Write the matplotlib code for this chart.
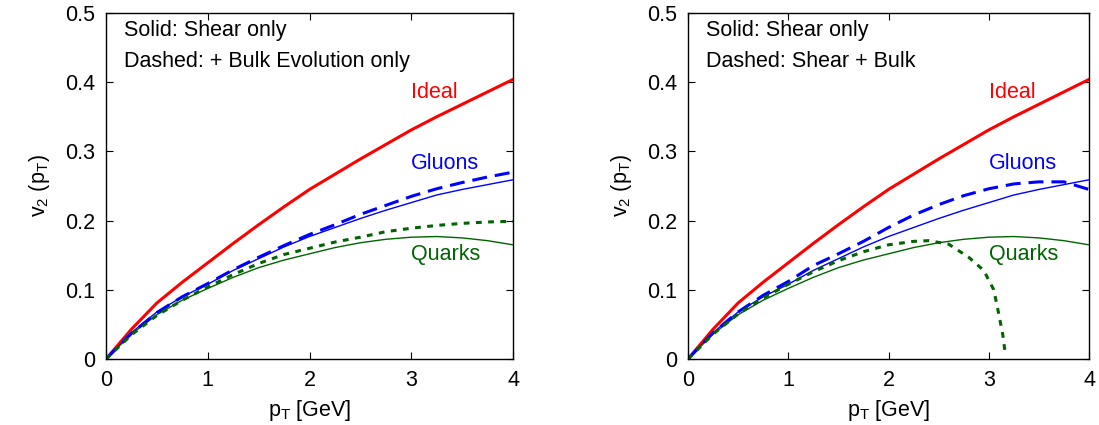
import matplotlib
matplotlib.use("Agg")
import matplotlib.pyplot as plt

# データ (p_T [GeV], v2)
pt = [0, 0.25, 0.5, 0.75, 1, 1.25, 1.5, 1.75, 2, 2.25, 2.5, 2.75, 3, 3.25, 3.5, 3.75, 4]
ideal = [0, 0.043, 0.081, 0.111, 0.139, 0.167, 0.194, 0.220, 0.245, 0.267, 0.289, 0.310, 0.331, 0.350, 0.368, 0.386, 0.404]
gluon_shear = [0, 0.038, 0.068, 0.090, 0.108, 0.128, 0.145, 0.162, 0.177, 0.190, 0.203, 0.215, 0.226, 0.237, 0.245, 0.252, 0.259]
quark_shear = [0, 0.036, 0.064, 0.085, 0.102, 0.118, 0.132, 0.143, 0.152, 0.161, 0.168, 0.173, 0.176, 0.177, 0.175, 0.171, 0.165]
gluon_bulkevo = [0, 0.037, 0.067, 0.090, 0.109, 0.129, 0.147, 0.164, 0.180, 0.194, 0.209, 0.222, 0.235, 0.246, 0.255, 0.263, 0.270]
quark_bulkevo = [0, 0.035, 0.063, 0.085, 0.104, 0.122, 0.138, 0.151, 0.160, 0.169, 0.176, 0.184, 0.189, 0.193, 0.196, 0.198, 0.199]
gluon_bulk = [0, 0.038, 0.068, 0.092, 0.112, 0.135, 0.152, 0.170, 0.190, 0.208, 0.223, 0.236, 0.246, 0.253, 0.256, 0.256, 0.245]
pt_q = [0, 0.25, 0.5, 0.75, 1, 1.25, 1.5, 1.75, 2, 2.25, 2.4, 2.6, 2.8, 2.95, 3.05, 3.1, 3.14, 3.16]
quark_bulk = [0, 0.036, 0.065, 0.088, 0.108, 0.126, 0.142, 0.155, 0.165, 0.170, 0.171, 0.166, 0.147, 0.128, 0.100, 0.065, 0.035, 0.013]

xticks = [0, 1, 2, 3, 4]
yticks = [0, 0.1, 0.2, 0.3, 0.4, 0.5]
yticklabels = ["0", "0.1", "0.2", "0.3", "0.4", "0.5"]
notes = [["Solid: Shear only", "Dashed: + Bulk Evolution only"],
         ["Solid: Shear only", "Dashed: Shear + Bulk"]]

#フォント
plt.rcParams['font.family'] = ['Liberation Sans', 'DejaVu Sans']
plt.rcParams['font.size'] = 15.5
plt.rcParams['mathtext.fontset'] = 'custom'
plt.rcParams['mathtext.rm'] = 'Liberation Sans'
plt.rcParams['mathtext.default'] = 'regular'
plt.rcParams['xtick.direction'] = 'in'
plt.rcParams['ytick.direction'] = 'in'

RED = '#ff0000'
BLUE = '#0000ff'
GREEN = '#006400'
FS = 15.5

fig = plt.figure(figsize=(10.99, 4.25), dpi=100)
ax1 = fig.add_axes([106/1099, 1-359/425, 407/1099, 346/425])
ax2 = fig.add_axes([688/1099, 1-359/425, 401/1099, 346/425])

for i, ax in enumerate([ax1, ax2]):
    ax.plot(pt, ideal, color=RED, lw=2.2)
    ax.plot(pt, gluon_shear, color=BLUE, lw=1.0)
    ax.plot(pt, quark_shear, color=GREEN, lw=1.0)
    if i == 0:
        ax.plot(pt, gluon_bulkevo, color=BLUE, lw=2.2, dashes=(4.9, 2.6))
        ax.plot(pt, quark_bulkevo, color=GREEN, lw=2.2, dashes=(1.9, 2.1))
    else:
        ax.plot(pt, gluon_bulk, color=BLUE, lw=2.2, dashes=(4.9, 2.6))
        ax.plot(pt_q, quark_bulk, color=GREEN, lw=2.2, dashes=(1.9, 2.1))

    ax.set_xlim(0, 4)
    ax.set_ylim(0, 0.5)
    ax.set_xticks(xticks)
    ax.set_xticklabels([str(t) for t in xticks])
    ax.set_yticks(yticks)
    ax.set_yticklabels(yticklabels)
    ax.tick_params(top=True, right=True, length=5, width=0.8, labelsize=FS)
    ax.tick_params(axis='y', pad=8)
    ax.tick_params(axis='x', pad=8)
    for s in ax.spines.values():
        s.set_linewidth(1.0)

    ax.text(0.18, 0.474, notes[i][0], fontsize=FS, va='center')
    ax.text(0.18, 0.430, notes[i][1], fontsize=FS, va='center')
    ax.text(3.0, 0.385, "Ideal", color=RED, fontsize=FS, va='center')
    ax.text(3.0, 0.282, "Gluons", color=BLUE, fontsize=FS, va='center')
    ax.text(3.0, 0.151, "Quarks", color=GREEN, fontsize=FS, va='center')

    ax.set_xlabel("p$_T$ [GeV]", fontsize=FS, labelpad=5)
    ax.set_ylabel("v$_2$ (p$_T$)", fontsize=FS, labelpad=9)

plt.savefig("out.png", dpi=100)
